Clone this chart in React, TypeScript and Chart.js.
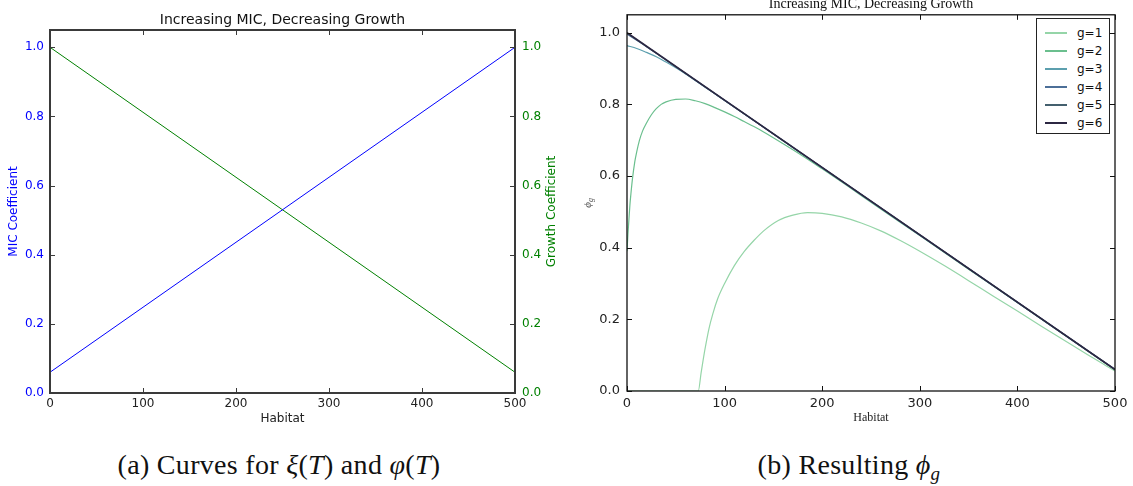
import React, { useEffect, useRef } from "react";
import { Chart, registerables } from "chart.js";

Chart.register(...registerables);

// ---------- data: panel (a) ----------
const habitatLine = [0, 500];
const micCoefficient = [0.06, 1.0];
const growthCoefficient = [1.0, 0.06];

// ---------- data: panel (b) ----------
const seriesLabels = ["g=1", "g=2", "g=3", "g=4", "g=5", "g=6"];
const seriesColors = ["#95d5a8", "#6bbf8e", "#5c9fae", "#4c6f98", "#44606e", "#2c2742"];

const habitatG1 = [0, 73, 76, 78, 80, 84, 88, 93, 100, 110, 120, 130, 140, 155, 170, 185, 200, 220, 240, 260, 280, 300, 325, 350, 375, 400, 425, 450, 475, 500];
const phiG1 = [0, 0, 0.052, 0.086, 0.118, 0.174, 0.216, 0.258, 0.3, 0.35, 0.389, 0.42, 0.447, 0.476, 0.491, 0.498, 0.496, 0.486, 0.469, 0.447, 0.42, 0.39, 0.35, 0.308, 0.265, 0.223, 0.18, 0.138, 0.096, 0.056];

const habitatG2 = [0, 1, 2, 3, 4, 5.5, 8, 10, 12.6, 16, 20, 25, 30, 35, 40, 50, 60, 70, 80, 90, 100, 110, 120, 130, 140, 160, 180, 200, 225, 260, 300, 350, 400, 450, 500];
const phiG2 = [0.39, 0.44, 0.48, 0.52, 0.55, 0.59, 0.64, 0.668, 0.698, 0.726, 0.748, 0.771, 0.788, 0.8, 0.807, 0.814, 0.815, 0.81, 0.802, 0.791, 0.779, 0.766, 0.752, 0.738, 0.723, 0.69, 0.656, 0.62, 0.574, 0.508, 0.434, 0.34, 0.247, 0.153, 0.059];

const habitatG3 = [0, 10, 20, 30, 40, 50, 60, 80, 100, 150, 200, 300, 400, 500];
const phiG3 = [0.964, 0.956, 0.945, 0.933, 0.918, 0.902, 0.885, 0.848, 0.811, 0.717, 0.623, 0.435, 0.247, 0.06];

const habitatG4 = [0, 20, 40, 500];
const phiG4 = [0.996, 0.961, 0.924, 0.06];

const habitatG5 = [0, 500];
const phiG5 = [0.999, 0.06];

const habitatG6 = [0, 500];
const phiG6 = [1.0, 0.06];

const seriesHabitat = [habitatG1, habitatG2, habitatG3, habitatG4, habitatG5, habitatG6];
const seriesPhi = [phiG1, phiG2, phiG3, phiG4, phiG5, phiG6];

const chartTitle = "Increasing MIC, Decreasing Growth";

const toPoints = (xs: number[], ys: number[]) => xs.map((x, i) => ({ x, y: ys[i] }));

Chart.defaults.font.family = "'DejaVu Sans', sans-serif";

function makeFramePlugin(color: string, width: number, tickLen: number, yId: string) {
  return {
    id: "frame",
    afterDatasetsDraw(chart: any) {
      const { ctx, chartArea: a, scales } = chart;
      ctx.save();
      ctx.strokeStyle = color;
      ctx.lineWidth = width;
      ctx.strokeRect(a.left, a.top, a.right - a.left, a.bottom - a.top);
      ctx.lineWidth = 1;
      ctx.beginPath();
      scales.x.ticks.forEach((t: any) => {
        const p = Math.round(scales.x.getPixelForValue(t.value)) + 0.5;
        ctx.moveTo(p, a.bottom);
        ctx.lineTo(p, a.bottom - tickLen);
        ctx.moveTo(p, a.top);
        ctx.lineTo(p, a.top + tickLen);
      });
      const ys = scales[yId];
      ys.ticks.forEach((t: any) => {
        const p = Math.round(ys.getPixelForValue(t.value)) + 0.5;
        ctx.moveTo(a.left, p);
        ctx.lineTo(a.left + tickLen, p);
        ctx.moveTo(a.right, p);
        ctx.lineTo(a.right - tickLen, p);
      });
      ctx.stroke();
      ctx.restore();
    },
  };
}

type TextItem = {
  text: string;
  sub?: string;
  x: number | "center";
  y: number | "middle";
  rotation?: number;
  font: string;
  subFont?: string;
  color: string;
  baseline?: CanvasTextBaseline;
};

function makeTextPlugin(items: TextItem[]) {
  return {
    id: "extraText",
    afterDraw(chart: any) {
      const { ctx, chartArea: a } = chart;
      items.forEach((it) => {
        ctx.save();
        const x = it.x === "center" ? (a.left + a.right) / 2 : it.x;
        const y = it.y === "middle" ? (a.top + a.bottom) / 2 : it.y;
        ctx.translate(x, y);
        ctx.rotate(it.rotation || 0);
        ctx.fillStyle = it.color;
        ctx.textBaseline = it.baseline || "middle";
        ctx.font = it.font;
        if (it.sub) {
          const w1 = ctx.measureText(it.text).width;
          ctx.font = it.subFont || it.font;
          const w2 = ctx.measureText(it.sub).width;
          const start = -(w1 + w2) / 2;
          ctx.textAlign = "left";
          ctx.font = it.font;
          ctx.fillText(it.text, start, 0);
          ctx.font = it.subFont || it.font;
          ctx.fillText(it.sub, start + w1, 3);
        } else {
          ctx.textAlign = "center";
          ctx.fillText(it.text, 0, 0);
        }
        ctx.restore();
      });
    },
  };
}

export default function App() {
  const refA = useRef<HTMLCanvasElement | null>(null);
  const refB = useRef<HTMLCanvasElement | null>(null);

  useEffect(() => {
    const fmt = (v: any) => Number(v).toFixed(1);

    const chartA = new Chart(refA.current as HTMLCanvasElement, {
      type: "line",
      data: {
        datasets: [
          {
            label: "MIC Coefficient",
            data: toPoints(habitatLine, micCoefficient),
            borderColor: "#0000ff",
            borderWidth: 1,
            pointRadius: 0,
            yAxisID: "y",
          },
          {
            label: "Growth Coefficient",
            data: toPoints(habitatLine, growthCoefficient),
            borderColor: "#008000",
            borderWidth: 1,
            pointRadius: 0,
            yAxisID: "y2",
          },
        ],
      },
      options: {
        animation: false,
        responsive: false,
        maintainAspectRatio: false,
        layout: { padding: { top: 30, left: 0, right: 0, bottom: 0 }, autoPadding: false },
        plugins: { legend: { display: false }, tooltip: { enabled: false }, title: { display: false } },
        scales: {
          x: {
            type: "linear",
            min: 0,
            max: 500,
            ticks: { stepSize: 100, color: "#222", font: { size: 12 }, padding: 4, maxRotation: 0 },
            grid: { display: false, drawTicks: false },
            border: { display: false },
            title: { display: true, text: "Habitat", color: "#222", font: { size: 12 }, padding: { top: 0, bottom: 3.8 } },
            afterFit: (s: any) => {
              s.height = 37;
            },
          },
          y: {
            position: "left",
            min: 0,
            max: 1.05,
            ticks: { stepSize: 0.2, includeBounds: false, color: "#0000ff", font: { size: 12 }, padding: 6, callback: fmt },
            grid: { display: false, drawTicks: false },
            border: { display: false },
            title: { display: true, text: "MIC Coefficient", color: "#0000ff", font: { size: 12 }, padding: { top: 6.8, bottom: 0 } },
            afterFit: (s: any) => {
              s.width = 50;
            },
          },
          y2: {
            position: "right",
            min: 0,
            max: 1.05,
            ticks: { stepSize: 0.2, includeBounds: false, color: "#008000", font: { size: 12 }, padding: 7, callback: fmt },
            grid: { display: false, drawTicks: false },
            border: { display: false },
            afterFit: (s: any) => {
              s.width = 55;
            },
          },
        },
      } as any,
      plugins: [
        makeFramePlugin("#3a3a3a", 2, 5, "y"),
        makeTextPlugin([
          { text: chartTitle, x: "center", y: 20, font: "14px 'DejaVu Sans'", color: "#111" },
          { text: "Growth Coefficient", x: 552, y: "middle", rotation: -Math.PI / 2, font: "12px 'DejaVu Sans'", color: "#008000" },
        ]),
      ],
    });

    const chartB = new Chart(refB.current as HTMLCanvasElement, {
      type: "line",
      data: {
        datasets: seriesLabels.map((label, i) => ({
          label,
          data: toPoints(seriesHabitat[i], seriesPhi[i]),
          borderColor: seriesColors[i],
          borderWidth: i === 5 ? 1.6 : 1.2,
          pointRadius: 0,
          cubicInterpolationMode: "monotone",
          order: seriesLabels.length - i,
        })),
      },
      options: {
        animation: false,
        responsive: false,
        maintainAspectRatio: false,
        layout: { padding: { top: 14, left: 0, right: 18, bottom: 0 }, autoPadding: false },
        plugins: { legend: { display: false }, tooltip: { enabled: false }, title: { display: false } },
        scales: {
          x: {
            type: "linear",
            min: 0,
            max: 500,
            ticks: { stepSize: 100, color: "#222", font: { size: 13 }, padding: 5, maxRotation: 0 },
            grid: { display: false, drawTicks: false },
            border: { display: false },
            title: {
              display: true,
              text: "Habitat",
              color: "#222",
              font: { size: 12, family: "'Liberation Serif', serif" },
              padding: { top: 0, bottom: 4.8 },
            },
            afterFit: (s: any) => {
              s.height = 39;
            },
          },
          y: {
            position: "left",
            min: 0,
            max: 1.05,
            ticks: { stepSize: 0.2, includeBounds: false, color: "#222", font: { size: 13 }, padding: 7, callback: fmt },
            grid: { display: false, drawTicks: false },
            border: { display: false },
            afterFit: (s: any) => {
              s.width = 57;
            },
          },
        },
      } as any,
      plugins: [
        makeFramePlugin("#111", 1.3, 5, "y"),
        makeTextPlugin([
          { text: chartTitle, x: "center", y: 8, baseline: "alphabetic", font: "14px 'Liberation Serif'", color: "#111" },
          {
            text: "ϕ",
            sub: "g",
            x: 18,
            y: "middle",
            rotation: -Math.PI / 2,
            font: "italic 11px 'Liberation Serif'",
            subFont: "italic 8px 'Liberation Serif'",
            color: "#555",
          },
        ]),
      ],
    });

    return () => {
      chartA.destroy();
      chartB.destroy();
    };
  }, []);

  const captionStyle: React.CSSProperties = {
    position: "absolute",
    top: 449,
    width: 600,
    textAlign: "center",
    fontFamily: "'Liberation Serif', serif",
    fontSize: 28,
    letterSpacing: "0.3px",
    lineHeight: "32px",
    color: "#111",
    whiteSpace: "nowrap",
  };

  return (
    <div
      style={{
        position: "absolute",
        left: 0,
        top: 0,
        width: 1133,
        height: 486,
        background: "#fff",
        overflow: "hidden",
      }}
    >
      <canvas ref={refA} width={570} height={430} style={{ position: "absolute", left: 0, top: 0, width: 570, height: 430 }} />
      <canvas ref={refB} width={563} height={430} style={{ position: "absolute", left: 570, top: 0, width: 563, height: 430 }} />

      <div
        style={{
          position: "absolute",
          left: 1036,
          top: 18,
          width: 74,
          height: 116,
          border: "1px solid #222",
          background: "#fff",
          fontFamily: "'DejaVu Sans', sans-serif",
          fontSize: 12,
          color: "#111",
          paddingTop: 5,
          boxSizing: "border-box",
        }}
      >
        {seriesLabels.map((label, i) => (
          <div key={label} style={{ position: "relative", height: 18, lineHeight: "18px" }}>
            <div
              style={{
                position: "absolute",
                left: 8,
                top: 8,
                width: 22,
                height: 1.5,
                background: seriesColors[i],
              }}
            />
            <span style={{ position: "absolute", left: 40 }}>{label}</span>
          </div>
        ))}
      </div>

      <div style={{ ...captionStyle, left: 279 - 300 }}>
        (a) Curves for <i>ξ</i>(<i>T</i>) and <i>φ</i>(<i>T</i>)
      </div>
      <div style={{ ...captionStyle, left: 849 - 300 }}>
        (b) Resulting <i>ϕ</i>
        <sub style={{ fontSize: 19, fontStyle: "italic", verticalAlign: "-6px", lineHeight: 0 }}>g</sub>
      </div>
    </div>
  );
}
